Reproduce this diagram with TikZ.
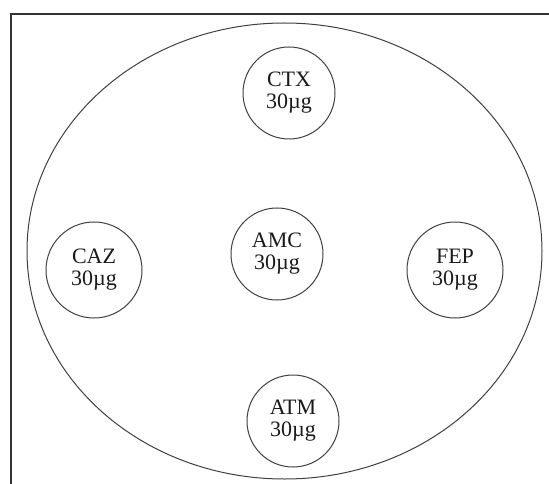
\documentclass[tikz,border=0pt]{standalone}
\usepackage{fontspec}
\setmainfont{Liberation Serif}
\usetikzlibrary{shapes.geometric}

\begin{document}
\begin{tikzpicture}
[
    x=1pt, y=-1pt,
    % pixel-like units: origin at the top left corner
    font=\fontsize{22}{22}\selectfont
]

%=================================== Start ===================================
\tikzstyle{frame} = [draw=black!80, line width=1.4pt]
\tikzstyle{plate} = [ellipse, draw=black!75, line width=1pt, inner sep=0pt,
                     minimum width=515pt, minimum height=456pt]
\tikzstyle{disc}  = [circle, draw=black!75, line width=1pt, inner sep=0pt,
                     minimum size=#1, align=center, text=black!90]

\useasboundingbox (0,0) rectangle (549,484);

% Frame (only the left and top sides are shown)
\coordinate (F-bl) at (11,484);
\coordinate (F-tl) at (11,14);
\coordinate (F-tr) at (549,14);
\draw[frame] (F-bl) -- (F-tl) -- (F-tr);

% Petri dish
\node[plate] (plate) at (284.5,251) {};

% Antibiotic discs
\foreach \name / \x / \y / \d in {CTX/289/93/92pt, CAZ/94/270/96pt,
                                  AMC/277/254/92pt, FEP/455/270/96pt,
                                  ATM/293/421/92pt}
    \node[disc=\d] (D-\name) at (\x,\y) {\name\\30µg};
%==================================== END ====================================

\end{tikzpicture}
\end{document}
